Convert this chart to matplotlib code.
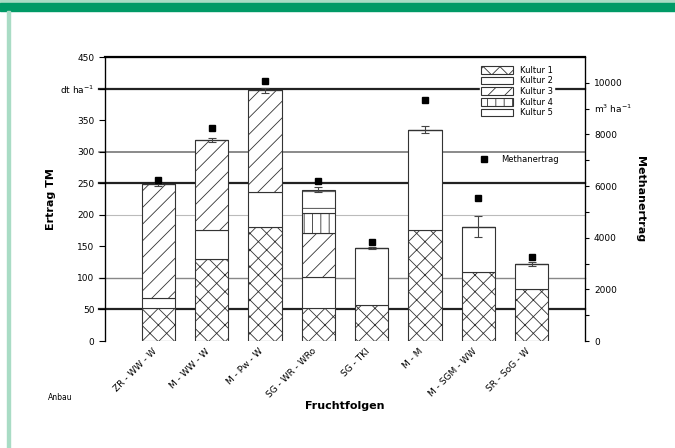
# Ertrag und Methanertrag verschiedener Fruchtfolgen
import matplotlib
matplotlib.use('Agg')
import matplotlib.pyplot as plt
from matplotlib.patches import Patch, Rectangle
from matplotlib.lines import Line2D
import numpy as np

plt.rcParams['font.family'] = 'DejaVu Sans'
plt.rcParams['hatch.linewidth'] = 0.6
plt.rcParams['hatch.color'] = '#333333'

# data (dt TM/ha per Kultur, Methanertrag m3/ha)
fruchtfolgen = ['ZR - WW - W', 'M - WW - W', 'M - Pw - W', 'SG - WR - WRo',
                'SG - TKl', 'M - M', 'M - SGM - WW', 'SR - SoG - W']
kultur1 = [52, 130, 181, 52, 57, 176, 110, 82]
kultur2 = [16, 46, 55, 50, 90, 159, 71, 40]
kultur3 = [180, 143, 161, 69, 0, 0, 0, 0]
kultur4 = [0, 0, 0, 32, 0, 0, 0, 0]
kultur5 = [0, 0, 0, 37, 0, 0, 0, 0]
fehler = [3, 3, 4, 4, 2, 6, 17, 3]
methan = [6240, 8250, 10080, 6200, 3830, 9340, 5540, 3260]

left_ticks = [0, 50, 100, 150, 200, 250, 300, 350, 400, 450]
left_labels = ['0', '50', '100', '150', '200', '250', '300', '350', 'dt ha$^{-1}$', '450']
right_ticks = [0, 2000, 4000, 6000, 8000, 10000]

kulturen = [kultur1, kultur2, kultur3, kultur4, kultur5]
namen = ['Kultur 1', 'Kultur 2', 'Kultur 3', 'Kultur 4', 'Kultur 5']
hatches = ['xx', '', '//', '||', '-']

fig = plt.figure(figsize=(6.75, 4.48), dpi=100)

# page frame
fig.patches.append(Rectangle((0, 1 - 3/448), 1, 3/448, transform=fig.transFigure,
                             color='#a9dcc5', zorder=0))
fig.patches.append(Rectangle((0, 1 - 11/448), 1, 8/448, transform=fig.transFigure,
                             color='#009a66', zorder=0))
fig.patches.append(Rectangle((7/675, 0), 3/675, 1 - 11/448, transform=fig.transFigure,
                             color='#a9dcc5', zorder=0))

ax = fig.add_axes([105/675, 1 - 341/448, 480/675, 284/448])
x = np.arange(len(fruchtfolgen))

# reference lines
for yv, lw, col in [(50, 1.6, '#222222'), (100, 1.0, '#888888'), (200, 0.8, '#bbbbbb'),
                    (250, 1.6, '#222222'), (300, 1.2, '#777777'), (400, 1.6, '#222222')]:
    ax.axhline(yv, color=col, lw=lw, zorder=0.5, xmin=-0.012, clip_on=False)

bottom = np.zeros(len(x))
for vals, h in zip(kulturen, hatches):
    ax.bar(x, vals, 0.62, bottom=bottom, color='white', edgecolor='#333333',
           hatch=h, linewidth=0.8, zorder=2)
    bottom += np.array(vals)

ax.errorbar(x, bottom, yerr=fehler, fmt='none', ecolor='#444444', elinewidth=0.8,
            capsize=3, capthick=0.8, zorder=3)

ax.set_xlim(-1, 8)
ax.set_ylim(0, 450)
ax.set_yticks(left_ticks)
ax.set_yticklabels(left_labels, fontsize=6.5)
ax.set_xticks(x)
ax.set_xticklabels(fruchtfolgen, rotation=45, ha='right', va='top', fontsize=6.5)
ax.tick_params(axis='x', length=0, pad=4)
ax.tick_params(axis='y', length=4, width=0.8)
ax.spines['bottom'].set_visible(False)
ax.spines['top'].set_linewidth(1.6)
ax.spines['left'].set_linewidth(0.9)
ax.set_ylabel('Ertrag TM', fontsize=8, fontweight='bold', labelpad=3)
ax.set_xlabel('Fruchtfolgen', fontsize=8, fontweight='bold', labelpad=1)
fig.text(48/675, 1 - 397/448, 'Anbau', fontsize=5.5, ha='left', va='center')

ax2 = ax.twinx()
ax2.plot(x, methan, 's', color='black', markersize=5, zorder=5)
ax2.set_ylim(0, 11000)
ax2.set_yticks(right_ticks)
ax2.set_yticks(np.arange(1000, 11000, 2000), minor=True)
ax2.set_yticklabels([str(t) for t in right_ticks], fontsize=6.5)
ax2.tick_params(axis='y', which='both', length=3, width=0.8)
ax2.spines['bottom'].set_visible(False)
ax2.spines['right'].set_linewidth(0.9)
ax2.text(1.018, 9000, 'm$^3$ ha$^{-1}$', transform=ax2.get_yaxis_transform(),
         fontsize=6.5, va='center', ha='left')
ax2.set_ylabel('Methanertrag', fontsize=8, fontweight='bold', rotation=270, labelpad=16)

# legends
handles = [Patch(facecolor='white', edgecolor='#333333', hatch=h, linewidth=0.8, label=n)
           for h, n in zip(hatches, namen)]
leg1 = ax2.legend(handles=handles, loc='upper right', bbox_to_anchor=(0.945, 0.99),
                  fontsize=6, frameon=True, framealpha=1, edgecolor='white',
                  handlelength=3.8, handleheight=1.0, labelspacing=0.2, borderpad=0.2)
ax2.add_artist(leg1)
m = Line2D([], [], marker='s', color='black', linestyle='none', markersize=5,
           label='Methanertrag')
ax2.legend(handles=[m], loc='upper right', bbox_to_anchor=(0.96, 0.68), fontsize=6,
           frameon=False, handlelength=2.5)

fig.savefig('out.png', dpi=100)
